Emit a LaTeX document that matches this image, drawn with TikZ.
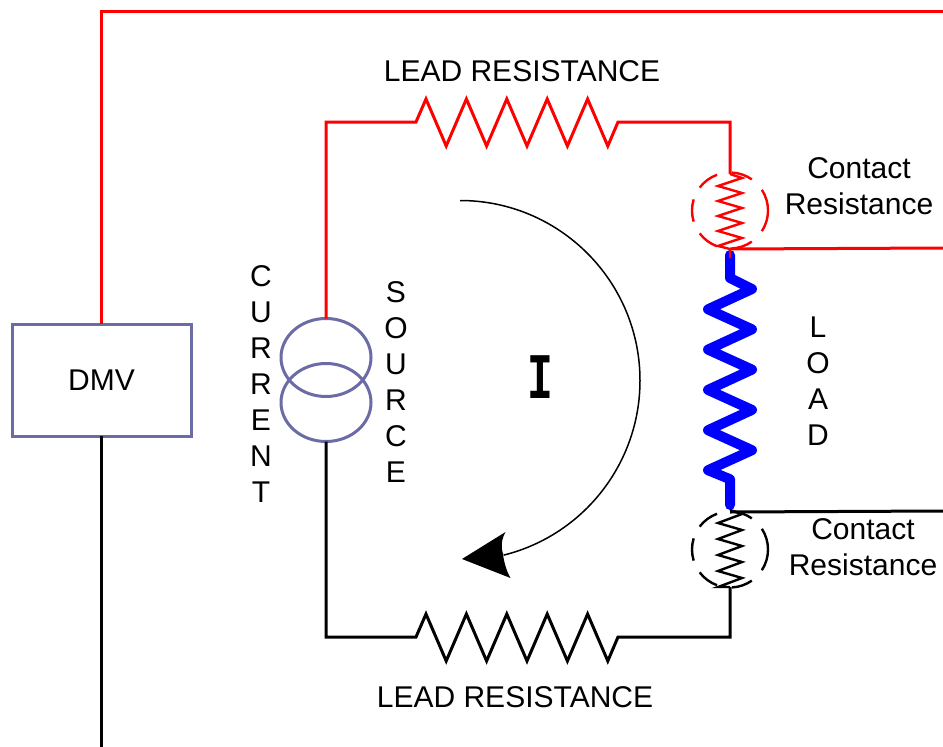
\documentclass[tikz,border=0pt]{standalone}
\usepackage{fontspec}
\setmainfont{Liberation Sans}
\newfontfamily\slabfont{Liberation Mono}
\usetikzlibrary{shapes.geometric}

\begin{document}
\begin{tikzpicture}[x=1pt,y=-1pt,
    wirered/.style={draw=red,line width=3pt,line join=miter},
    wireblack/.style={draw=black,line width=3pt,line join=miter},
    thinred/.style={draw=red,line width=2.4pt},
    thinblack/.style={draw=black,line width=2.4pt},
    instr/.style={draw={rgb,255:red,107;green,107;blue,165},line width=3pt,inner sep=0pt,outer sep=0pt},
    label/.style={font=\fontsize{30}{36}\selectfont,align=center,inner sep=0pt}]
    \useasboundingbox (0,0) rectangle (943,747);

    % Meter and source
    \node[instr,minimum width=179pt,minimum height=112pt,label] (dmv) at (101.5,380) {DMV};
    \node[instr,ellipse,minimum width=90pt,minimum height=78pt] (srcTop) at (326,357.5) {};
    \node[instr,ellipse,minimum width=90pt,minimum height=78pt] (srcBot) at (326,402.5) {};

    % Junctions
    \coordinate (topEnd) at (943,11);
    \coordinate (bottomEnd) at (101.5,747);
    \coordinate (leadTopL) at (416,122);
    \coordinate (leadTopR) at (618,122);
    \coordinate (leadBotL) at (416,637);
    \coordinate (leadBotR) at (618,637);
    \coordinate (contactA) at (730,174);
    \coordinate (contactB) at (730,249);
    \coordinate (contactC) at (730,510);
    \coordinate (contactD) at (730,587);
    \coordinate (senseRed) at (943,248);
    \coordinate (senseBlack) at (943,511);
    \coordinate (loadTop) at (730,255);
    \coordinate (loadBot) at (730,505);
    \coordinate (ringRed) at (730,210.5);
    \coordinate (ringBlack) at (730,549.5);

    % Load
    \draw[blue,line width=10pt,line cap=round,line join=round] (loadTop) -- ++(0,23) -- ++(22,11)
        \foreach \k in {1,2,3,4}{ -- ++(-44,20.3) -- ++(44,20) } -- ++(-44,20) -- ++(22,9) -- (loadBot);

    % Red side
    \draw[wirered] (dmv.north) |- (topEnd);
    \draw[wirered] (srcTop.north) |- (leadTopL) -- ++(10,-23)
        \foreach \k in {1,2,3,4}{ -- ++(20.2,47) -- ++(20.2,-47) } -- ++(20.2,47) -- (leadTopR) -| (contactA);
    \draw[thinred] (contactA) -- ++(12,4)
        \foreach \k in {1,2,3,4}{ -- ++(-24,8) -- ++(24,7) } -- ++(-24,8) -- (contactB) -- ++(0,9);
    \draw[wirered] (contactB) -- (senseRed);
    \foreach \a/\b in {110/143,163/197,217/250,-87/-55,-33/33,55/87}{
    \draw[thinred] ([shift={(\a:38)}]ringRed) arc[start angle=\a,end angle=\b,radius=38];
    }

    % Black side
    \draw[wireblack] (dmv.south) -- (bottomEnd);
    \draw[wireblack] (srcBot.south) |- (leadBotL) -- ++(10,-23)
        \foreach \k in {1,2,3,4}{ -- ++(20.2,47) -- ++(20.2,-47) } -- ++(20.2,47) -- (leadBotR) -| (contactD);
    \draw[thinblack] (contactC) -- ++(12,4)
        \foreach \k in {1,2,3,4}{ -- ++(-24,9) -- ++(24,7) } -- ++(-24,9) -- (contactD);
    \draw[wireblack] (contactC) ++(0,2) -- (senseBlack);
    \foreach \a/\b in {110/143,163/197,217/250,-87/-55,-33/33,55/87}{
    \draw[thinblack] ([shift={(\a:38)}]ringBlack) arc[start angle=\a,end angle=\b,radius=38];
    }

    % Current arrow
    \coordinate (arcStart) at (460,200.5);
    \coordinate (arrowTip) at (462,559);
    \coordinate (wingA) at (505.5,532);
    \coordinate (wingB) at (510.5,578);
    \draw[line width=1.5pt] (arcStart) arc[start angle=-90,end angle=76,radius=180];
    \fill (arrowTip) -- (wingA) .. controls (501,540) and (501,548) .. (503,554)
        .. controls (504,563) and (507,572) .. (wingB) -- cycle;

    % Labels
    \node[label] (leadTopLabel) at (522,71) {LEAD RESISTANCE};
    \node[label] (leadBotLabel) at (515,697) {LEAD RESISTANCE};
    \node[label] (contactTop) at (859,186.5) {Contact\\Resistance};
    \node[label] (contactBot) at (863,547.5) {Contact\\Resistance};
    \node[label] (loadLabel) at (818,381) {L\\O\\A\\D};
    \node[label] (currentLabel) at (261,384.5) {C\\U\\R\\R\\E\\N\\T};
    \node[label] (sourceLabel) at (396,382.5) {S\\O\\U\\R\\C\\E};
    \node[font=\slabfont\bfseries\fontsize{65}{65}\selectfont,inner sep=0pt,xscale=.66] (currentI) at (540,377) {I};
\end{tikzpicture}
\end{document}
